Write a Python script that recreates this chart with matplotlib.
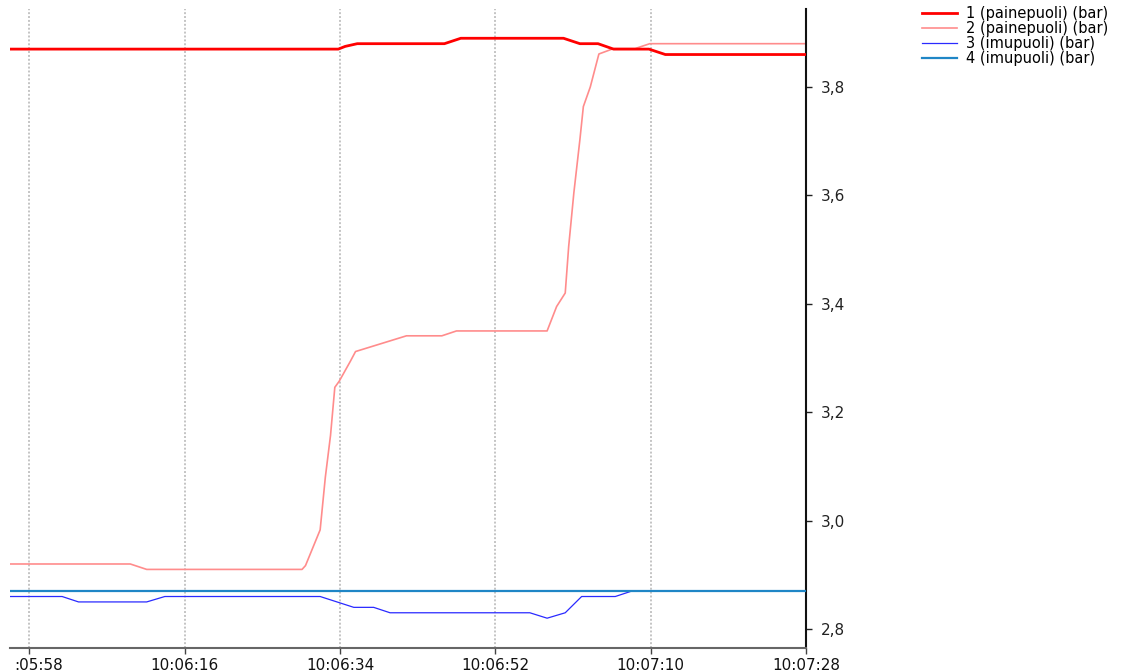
import matplotlib
matplotlib.use("Agg")
import matplotlib.pyplot as plt
import matplotlib.transforms as mtransforms

# times are seconds after 10:00:00, values in bar
t1 = [355.8, 393.8, 394.6, 396.0, 406.1, 408.0, 419.9, 421.8, 423.9, 425.7, 429.8, 431.7, 448.0]
v1 = [3.87, 3.87, 3.875, 3.88, 3.88, 3.89, 3.89, 3.88, 3.88, 3.87, 3.87, 3.86, 3.86]

t2 = [355.8, 369.7, 371.6, 389.6, 390.0, 391.7, 392.3, 392.9, 393.4, 393.9, 395.2, 395.8,
      401.7, 405.8, 407.5, 418.0, 419.1, 420.1, 420.5, 421.1, 421.8, 422.2, 423.0, 424.0,
      425.7, 428.2, 429.9, 448.0]
v2 = [2.92, 2.92, 2.91, 2.91, 2.917, 2.983, 3.08, 3.157, 3.246, 3.257, 3.294, 3.312,
      3.341, 3.341, 3.35, 3.35, 3.395, 3.42, 3.506, 3.605, 3.703, 3.764, 3.80, 3.861,
      3.871, 3.871, 3.88, 3.88]

t3 = [355.8, 361.8, 363.7, 371.6, 373.7, 391.7, 395.6, 397.9, 399.8, 416.0, 418.0,
      420.1, 422.0, 425.9, 427.8, 448.0]
v3 = [2.86, 2.86, 2.85, 2.85, 2.86, 2.86, 2.84, 2.84, 2.83, 2.83, 2.82,
      2.83, 2.86, 2.86, 2.87, 2.87]

t4 = [355.8, 448.0]
v4 = [2.87, 2.87]

labels = ["1 (painepuoli) (bar)", "2 (painepuoli) (bar)",
          "3 (imupuoli) (bar)", "4 (imupuoli) (bar)"]
colors = ["#ff0000", "#ff8c8c", "#2a2aff", "#1f86c6"]

x_ticks = [358, 376, 394, 412, 430, 448]
y_ticks = [2.8, 3.0, 3.2, 3.4, 3.6, 3.8]


def hms(s):
    s = int(round(s))
    return f"10:{s // 60:02d}:{s % 60:02d}"


W, H = 1130, 671
fig = plt.figure(figsize=(W / 100, H / 100), dpi=100)
ax = fig.add_axes([10 / W, 1 - 648 / H, 796 / W, 639 / H])

ax.plot(t2, v2, color=colors[1], lw=1.2, zorder=2, label=labels[1])
ax.plot(t3, v3, color=colors[2], lw=0.9, zorder=2, label=labels[2])
ax.plot(t1, v1, color=colors[0], lw=2.0, zorder=3, label=labels[0])
ax.plot(t4, v4, color=colors[3], lw=1.6, zorder=3, label=labels[3])

ax.set_xlim(355.76, 448.0)
ax.set_ylim(2.765, 3.944)

ax.yaxis.tick_right()
ax.set_yticks(y_ticks, [f"{v:.1f}".replace(".", ",") for v in y_ticks])
xl = [hms(t) for t in x_ticks]
xl[0] = ":05:58"
ax.set_xticks(x_ticks, xl)
ax.tick_params(axis="y", direction="out", length=4, width=1, pad=7,
               labelsize=11, colors="#222222")
ax.tick_params(axis="x", direction="out", length=4, width=1, pad=3,
               labelsize=11, colors="#444444", labelcolor="#111111")
first = ax.get_xticklabels()[0]
first.set_transform(first.get_transform()
                    + mtransforms.ScaledTranslation(9 / 100, 0, fig.dpi_scale_trans))

ax.grid(axis="x", color="#c4c4c4", lw=1.4, linestyle=(0, (1, 1)))
ax.grid(axis="y", visible=False)
for side in ["left", "top"]:
    ax.spines[side].set_visible(False)
ax.spines["right"].set_color("#111111")
ax.spines["right"].set_linewidth(1.5)
ax.spines["bottom"].set_color("#666666")
ax.spines["bottom"].set_linewidth(1.5)

handles, labs = ax.get_legend_handles_labels()
order = [labs.index(l) for l in labels]
fig.legend([handles[i] for i in order], labels, loc="upper left",
           bbox_to_anchor=(922 / W, 1 - 6 / H), frameon=False, fontsize=10.5,
           borderpad=0, borderaxespad=0, handlelength=2.4, handletextpad=0.6,
           labelspacing=0.0)

fig.savefig("out.png", dpi=100)
